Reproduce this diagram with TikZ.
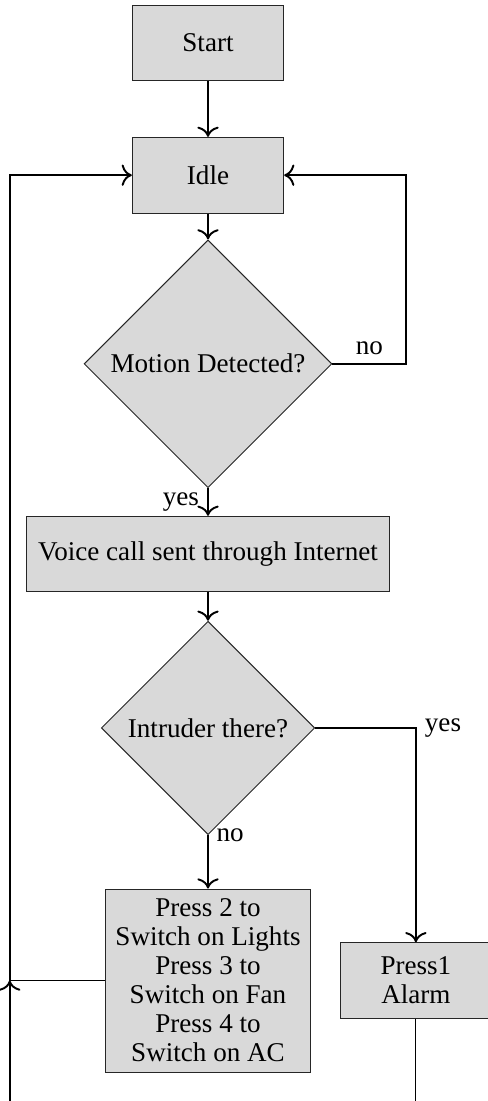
\documentclass[tikz,border=0pt]{standalone}
\usepackage{fontspec}
\setmainfont{Liberation Serif}
\usetikzlibrary{shapes.geometric,arrows.meta}

\begin{document}
\begin{tikzpicture}[
  font=\fontsize{11.2}{12}\selectfont,
  blockbox/.style={draw=black!85, fill=gray!30, minimum width=2.2cm, minimum height=1.1cm, align=center},
  decision/.style={diamond, aspect=1, draw=black!85, fill=gray!30, inner sep=0pt},
  flowarrow/.style={thick, -{To[scale=1.25]}},
  plainline/.style={thin}
]
\useasboundingbox (-3.022,-15.37) rectangle (4.054,0.625);

\node [blockbox] (start) at (0,0) {Start};
\node [blockbox] (idle) at (0,-1.92) {Idle};
\node [decision, minimum size=3.6cm] (motion) at (0,-4.66) {Motion Detected?};
\node [blockbox, minimum width=5.26cm, minimum height=1.09cm] (voice) at (0,-7.42) {Voice call sent through Internet};
\node [decision, minimum size=3.1cm] (intruder) at (0,-9.95) {Intruder there?};
\node [blockbox, minimum width=2.98cm, minimum height=2.66cm] (lights) at (0,-13.62) {Press 2 to\\Switch on Lights\\Press 3 to\\Switch on Fan\\Press 4 to\\Switch on AC};
\node [blockbox] (alarm) at (3.02,-13.62) {Press1\\Alarm};

\coordinate (motionturn) at (2.88,-4.66);
\coordinate (leftjoin) at (-2.88,-13.62);
\coordinate (leftfoot) at (-2.88,-15.45);
\coordinate (alarmfoot) at (3.02,-15.45);

\draw [flowarrow] (start) -- (idle);
\draw [flowarrow] (idle) -- (motion);
\draw [flowarrow] (motion.east) -- node[above] {no} (motionturn) |- (idle.east);
\draw [flowarrow] (motion) -- node[left] {yes} (voice);
\draw [flowarrow] (voice) -- (intruder);
\draw [flowarrow] (intruder.east) -| node[right] {yes} (alarm.north);
\draw [flowarrow] (intruder) -- (lights);
\node [right] (nolabel) at (intruder.south) {no};

\draw [plainline] (lights.west) -- (leftjoin);
\draw [flowarrow] (leftfoot) -- (leftjoin);
\draw [flowarrow] (leftjoin) |- (idle.west);
\draw [plainline] (alarm.south) -- (alarmfoot);

\end{tikzpicture}
\end{document}
